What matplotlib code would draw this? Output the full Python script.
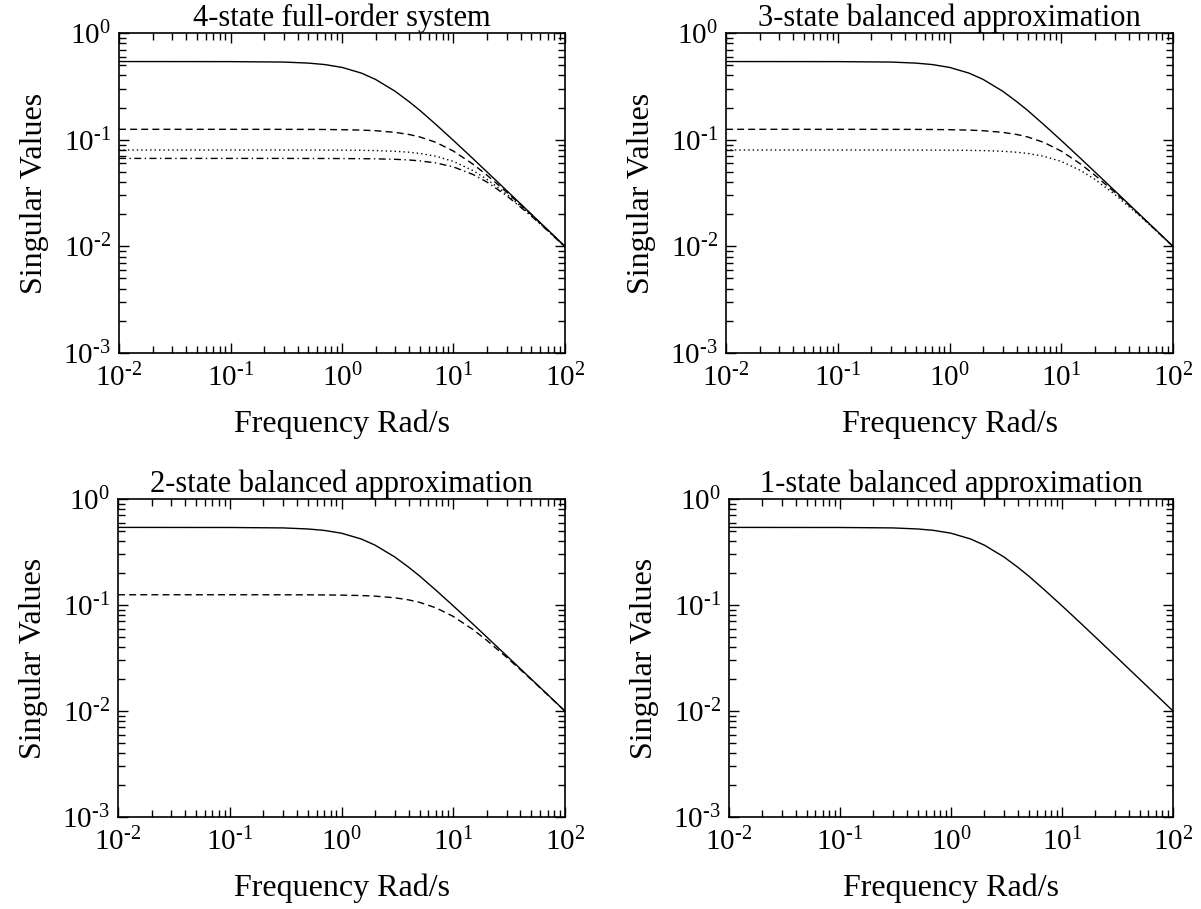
import numpy as np
import matplotlib
matplotlib.use('Agg')
from matplotlib import pyplot as plt
from matplotlib.ticker import LogLocator, FuncFormatter, NullFormatter

plt.rcParams['font.family'] = ['Liberation Serif', 'DejaVu Serif']
plt.rcParams['mathtext.fontset'] = 'custom'
plt.rcParams['mathtext.rm'] = 'Liberation Serif'

# Значения
freq = [0.01, 0.1, 0.3, 0.5, 0.7, 1, 1.5, 2, 3, 4, 5, 7, 10, 15, 20, 30, 50, 70, 100]

sv1 = [0.540, 0.539, 0.534, 0.522, 0.506, 0.476, 0.420, 0.367, 0.284, 0.227, 0.188,
       0.138, 0.0983, 0.0662, 0.0498, 0.0333, 0.0200, 0.0143, 0.0100]
sv2 = [0.125, 0.125, 0.1249, 0.1248, 0.1245, 0.1240, 0.1229, 0.1213, 0.1170, 0.1118, 0.1060,
       0.0941, 0.0781, 0.0588, 0.0464, 0.0322, 0.0198, 0.0142, 0.00997]
sv3 = [0.080, 0.080, 0.080, 0.0799, 0.0798, 0.0797, 0.0794, 0.0790, 0.0778, 0.0762, 0.0743,
       0.0698, 0.0625, 0.0512, 0.0424, 0.0308, 0.0194, 0.0141, 0.00992]
sv4 = [0.0667, 0.0667, 0.0667, 0.0666, 0.0666, 0.0665, 0.0663, 0.0661, 0.0654, 0.0645, 0.0632,
       0.0604, 0.0555, 0.0471, 0.0400, 0.0298, 0.0192, 0.0140, 0.00989]

titles = ['4-state full-order system', '3-state balanced approximation',
          '2-state balanced approximation', '1-state balanced approximation']
n_curves = [4, 3, 2, 1]

styles = [dict(linestyle='-'),
          dict(linestyle=(0, (5, 3))),
          dict(linestyle=(0, (1, 2.2))),
          dict(linestyle=(0, (5, 2.5, 1, 2.5)))]

positions = [[0.0991, 0.6117, 0.3713, 0.352],
             [0.6045, 0.6117, 0.3722, 0.352],
             [0.0983, 0.1012, 0.3721, 0.3498],
             [0.6070, 0.1012, 0.3697, 0.3498]]


def pow10(v, pos):
    e = int(round(np.log10(v)))
    if e < 0:
        return r'$\mathregular{10^{\text{-}%d}}$' % (-e)
    return r'$\mathregular{10^{%d}}$' % e


fig = plt.figure(figsize=(12.01, 9.09), dpi=100)
series = [sv1, sv2, sv3, sv4]

for i in range(4):
    ax = fig.add_axes(positions[i])
    for k in range(n_curves[i]):
        ax.plot(freq, series[k], color='black', linewidth=1.0, **styles[k])
    ax.set_xscale('log')
    ax.set_yscale('log')
    ax.set_xlim(1e-2, 1e2)
    ax.set_ylim(1e-3, 1e0)
    ax.xaxis.set_major_locator(LogLocator(base=10, numticks=10))
    ax.yaxis.set_major_locator(LogLocator(base=10, numticks=10))
    ax.xaxis.set_minor_locator(LogLocator(base=10, subs=np.arange(2, 10), numticks=20))
    ax.yaxis.set_minor_locator(LogLocator(base=10, subs=np.arange(2, 10), numticks=20))
    ax.xaxis.set_major_formatter(FuncFormatter(pow10))
    ax.yaxis.set_major_formatter(FuncFormatter(pow10))
    ax.xaxis.set_minor_formatter(NullFormatter())
    ax.yaxis.set_minor_formatter(NullFormatter())
    ax.tick_params(which='both', direction='in', top=True, right=True, width=1.0)
    ax.tick_params(which='major', length=7, labelsize=21)
    ax.tick_params(which='minor', length=5)
    ax.tick_params(axis='x', which='major', pad=8)
    ax.tick_params(axis='y', which='major', pad=6)
    for s in ax.spines.values():
        s.set_linewidth(1.2)
    ax.set_title(titles[i], fontsize=22, pad=1)
    ax.set_xlabel('Frequency Rad/s', fontsize=23, labelpad=12)
    ax.set_ylabel('Singular Values', fontsize=23, labelpad=10)

fig.savefig('out.png', dpi=100)
